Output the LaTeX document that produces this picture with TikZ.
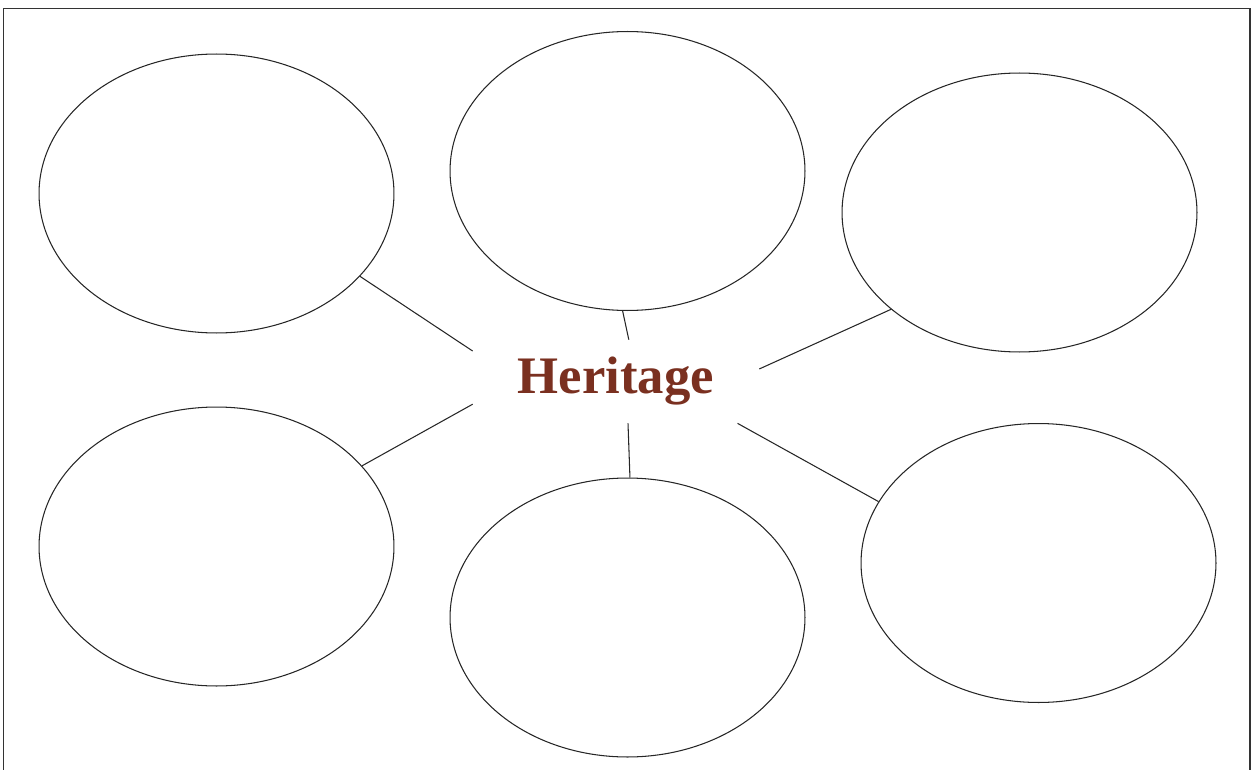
\documentclass[tikz,border=0pt]{standalone}
\usepackage{fontspec}
\setmainfont{Liberation Serif}
\usepackage{tikz}
\usetikzlibrary{
  calc, positioning, shapes.geometric
}
\usepackage{xcolor}
\definecolor{heritagebrown}{HTML}{7A3020}

\begin{document}
\begin{tikzpicture}[x=0.02cm, y=-0.02cm,
  bubble/.style={draw=black!85, ellipse, line width=0.6pt, inner sep=0pt,
    minimum width=7.1cm, minimum height=5.58cm},
  spoke/.style={draw=black!85, line width=0.6pt},
  frameline/.style={draw=black!80, line width=1.1pt}]
\useasboundingbox (0,0) rectangle (1260,770);
\draw[frameline] (3.5,772) -- (3.5,8.5) -- (1250,8.5) -- (1250,772);
\node[inner sep=0pt, minimum width=5.72cm, minimum height=1.66cm,
  text=heritagebrown, font=\fontsize{30}{35}\selectfont\bfseries]
  (title) at (616,381.5) {Heritage};
\foreach \n/\x/\y in {tl/216.5/193.5, tm/627.5/171, tr/1019.5/212.5,
                      bl/216.5/546.5, bm/627.5/617.5, br/1038.5/563} {
  \node[bubble] (\n) at (\x,\y) {};
}
% spokes from each bubble to the title
\foreach \n/\a/\b in {tl/330/168.3, tm/268.6/73.9, tr/217.5/5,
                      bl/29.9/189.7, bm/89.8/286.1, br/159.1/341.5} {
  \draw[spoke] (\n.\a) -- (title.\b);
}
\end{tikzpicture}
\end{document}
